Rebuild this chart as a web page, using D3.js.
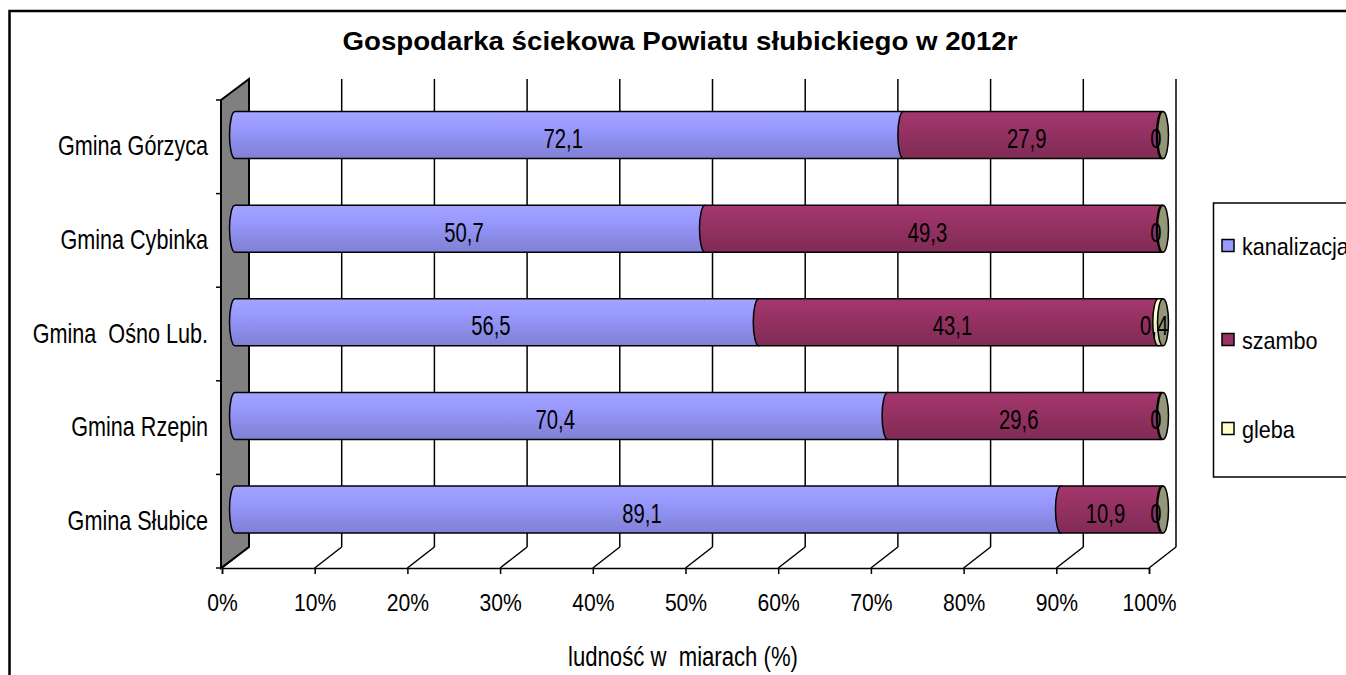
<!DOCTYPE html>
<html>
<head>
<meta charset="utf-8">
<script src="https://cdn.jsdelivr.net/npm/d3@7"></script>
<style>
  body { margin: 0; background: #fff; }
  text { font-family: "Liberation Sans", Arial, sans-serif; fill: #000; white-space: pre; }
</style>
</head>
<body>
<svg id="chart" width="1346" height="675"></svg>
<script>
// dane
const gminy = ["Gmina Górzyca", "Gmina Cybinka", "Gmina  Ośno Lub.", "Gmina Rzepin", "Gmina Słubice"]
const serie = ["kanalizacja", "szambo", "gleba"]
const kanalizacja = [72.1, 50.7, 56.5, 70.4, 89.1]
const szambo = [27.9, 49.3, 43.1, 29.6, 10.9]
const gleba = [0, 0, 0.4, 0, 0]
const kolory = ["#9999ff", "#993366", "#ffffcc"]
const procenty = [0, 10, 20, 30, 40, 50, 60, 70, 80, 90, 100]

const svg = d3.select('#chart')

// ramka wykresu
svg.append('rect')
    .attr('x', 9.5).attr('y', 11)
    .attr('width', 1500).attr('height', 800)
    .attr('fill', 'none').attr('stroke', '#000').attr('stroke-width', 2.5)

// skale
const xFront = d3.scaleLinear().domain([0, 100]).range([222, 1149])
const y = d3.scaleBand().domain(gminy).range([100, 568])
const dx = 27, dy = -21         // przesuniecie tylnej sciany
const bx = 13, by = -11.7       // przesuniecie walcow
const xBack = v => xFront(v) + dx
const xBar = v => xFront(v) + bx
const h = 23.5, rx = 5.5

const dane = gminy.map((g, i) => ({ gmina: g, kanalizacja: kanalizacja[i], szambo: szambo[i], gleba: gleba[i] }))
const stos = d3.stack().keys(serie)(dane)

// gradienty
const defs = svg.append('defs')
serie.forEach((s, i) => {
    const c = d3.color(kolory[i])
    const gr = defs.append('linearGradient').attr('id', 'g-' + s)
        .attr('x1', 0).attr('y1', 0).attr('x2', 0).attr('y2', 1)
    gr.append('stop').attr('offset', 0).attr('stop-color', c.brighter(0.2))
    gr.append('stop').attr('offset', 0.33).attr('stop-color', c)
    gr.append('stop').attr('offset', 0.66).attr('stop-color', c.darker(0.25))
    gr.append('stop').attr('offset', 1).attr('stop-color', c.darker(0.5))
})

// sciana lewa
svg.append('polygon')
    .attr('points', [[xFront(0) - 1, y.range()[0]], [xBack(0), y.range()[0] + dy],
        [xBack(0), y.range()[1] + dy], [xFront(0) - 1, y.range()[1]]].join(' '))
    .attr('fill', '#808080').attr('stroke', '#000').attr('stroke-width', 2)

// siatka
const siatka = svg.append('g').attr('stroke', '#000').attr('stroke-width', 1.5)
procenty.slice(1).forEach(p => {
    siatka.append('line')
        .attr('x1', xBack(p)).attr('x2', xBack(p))
        .attr('y1', y.range()[0] + dy).attr('y2', y.range()[1] + dy)
})
procenty.forEach(p => {
    siatka.append('line')
        .attr('x1', xBack(p)).attr('x2', xFront(p))
        .attr('y1', y.range()[1] + dy).attr('y2', y.range()[1])
})

// os kategorii
const osY = svg.append('g')
gminy.concat([null]).forEach((g, i) => {
    const yy = y.range()[0] + i * y.bandwidth()
    osY.append('line').attr('x1', xFront(0) - 6).attr('x2', xFront(0) - 1)
        .attr('y1', yy).attr('y2', yy).attr('stroke', '#000').attr('stroke-width', 1.5)
})
gminy.forEach(g => {
    osY.append('text')
        .attr('transform', `translate(208, ${y(g) + y.bandwidth() / 2 + 8.5}) scale(0.8, 1)`)
        .attr('text-anchor', 'end')
        .attr('font-size', 27)
        .text(g)
})

// os X
const osX = svg.append('g')
    .attr('transform', `translate(0, ${y.range()[1]})`)
    .call(d3.axisBottom(xFront).tickValues(procenty).tickFormat(d => d + '%')
        .tickSize(6).tickPadding(20))
osX.select('.domain').attr('stroke-width', 1.5)
osX.selectAll('.tick line').attr('stroke-width', 1.5)
osX.selectAll('.tick text')
    .attr('font-size', 24)
    .attr('font-family', '"Liberation Sans", Arial, sans-serif')
    .attr('transform', 'scale(0.88, 1)')

// walce
const segment = (x0, x1, cy) => {
    const t = cy - h, b = cy + h
    return `M${x0},${t}L${x1},${t}A${rx},${h} 0 0 1 ${x1},${b}L${x0},${b}A${rx},${h} 0 0 1 ${x0},${t}Z`
}
const cy = g => y(g) + y.bandwidth() / 2 + by

stos.forEach((warstwa, si) => {
    svg.append('g')
        .selectAll('path')
        .data(warstwa)
        .join('path')
        .attr('d', d => segment(xBar(d[0]), xBar(d[1]), cy(d.data.gmina)))
        .attr('fill', `url(#g-${serie[si]})`)
        .attr('stroke', '#000').attr('stroke-width', 1.5)
})

// denko walca
svg.append('g')
    .selectAll('ellipse')
    .data(stos[stos.length - 1])
    .join('ellipse')
    .attr('cx', d => xBar(d[1]) + 1)
    .attr('cy', d => cy(d.data.gmina))
    .attr('rx', rx).attr('ry', h)
    .attr('fill', d3.color(kolory[kolory.length - 1]).darker(1.5))
    .attr('stroke', '#000').attr('stroke-width', 1.5)

// etykiety danych
const fmt = v => String(v).replace('.', ',')
stos.forEach(warstwa => {
    svg.append('g')
        .selectAll('text')
        .data(warstwa)
        .join('text')
        .attr('transform', d => `translate(${xBar((d[0] + d[1]) / 2) - 6}, ${cy(d.data.gmina) + 13}) scale(0.75, 1)`)
        .attr('text-anchor', 'middle')
        .attr('font-size', 27)
        .text(d => fmt(+(d[1] - d[0]).toFixed(1)))
})

// tytul
svg.append('text')
    .attr('x', 680).attr('y', 50)
    .attr('text-anchor', 'middle')
    .attr('font-size', 25.5).attr('font-weight', 'bold')
    .attr('textLength', 675).attr('lengthAdjust', 'spacingAndGlyphs')
    .text('Gospodarka ściekowa Powiatu słubickiego w 2012r')

// tytul osi
svg.append('text')
    .attr('transform', 'translate(683, 666) scale(0.82, 1)')
    .attr('text-anchor', 'middle')
    .attr('font-size', 27)
    .text('ludność w  miarach (%)')

// legenda
const leg = svg.append('g')
leg.append('rect')
    .attr('x', 1213.5).attr('y', 203)
    .attr('width', 300).attr('height', 274)
    .attr('fill', '#fff').attr('stroke', '#000').attr('stroke-width', 1.5)
const legY = [246, 340, 429]
serie.forEach((s, i) => {
    leg.append('rect')
        .attr('x', 1222).attr('y', legY[i] - 6.5)
        .attr('width', 12).attr('height', 12)
        .attr('fill', kolory[i]).attr('stroke', '#000').attr('stroke-width', 1.5)
    leg.append('text')
        .attr('transform', `translate(1242, ${legY[i] + 8.5}) scale(0.9, 1)`)
        .attr('font-size', 24)
        .text(s)
})
</script>
</body>
</html>
